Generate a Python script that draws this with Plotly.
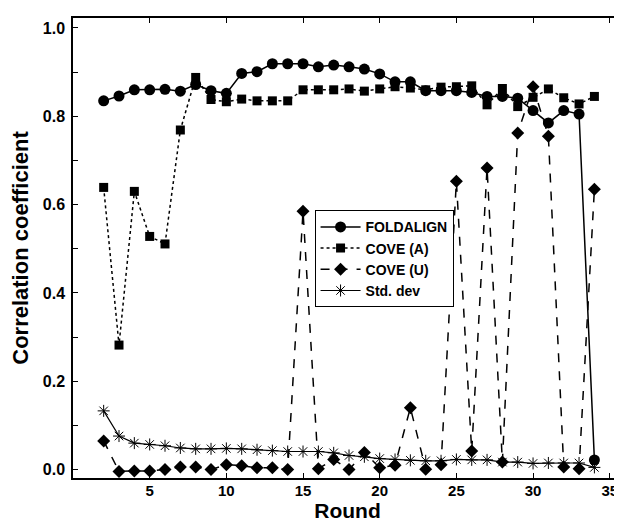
import plotly.graph_objects as go

rounds = list(range(2, 35))

foldalign = [0.835, 0.846, 0.860, 0.860, 0.861, 0.857, 0.872, 0.858, 0.852, 0.897,
             0.901, 0.919, 0.919, 0.919, 0.912, 0.916, 0.912, 0.907, 0.896, 0.878,
             0.878, 0.858, 0.858, 0.858, 0.854, 0.845, 0.845, 0.841, 0.813, 0.785,
             0.813, 0.805, 0.022]

cove_a = [0.639, 0.282, 0.630, 0.528, 0.511, 0.769, 0.888, 0.838, 0.833, 0.839,
          0.835, 0.835, 0.835, 0.860, 0.860, 0.860, 0.862, 0.857, 0.862, 0.867,
          0.864, 0.860, 0.866, 0.867, 0.869, 0.826, 0.863, 0.822, 0.843, 0.862,
          0.842, 0.828, 0.845]

cove_u = [0.065, -0.004, -0.003, -0.003, 0.000, 0.006, 0.006, 0.000, 0.011, 0.009,
          0.004, 0.004, 0.000, 0.585, 0.002, 0.023, 0.000, 0.039, 0.004, 0.010,
          0.140, 0.001, 0.011, 0.653, 0.042, 0.683, 0.017, 0.762, 0.867, 0.755,
          0.006, 0.002, 0.635]

std_dev = [0.133, 0.076, 0.060, 0.057, 0.054, 0.049, 0.047, 0.047, 0.048, 0.047,
           0.045, 0.043, 0.041, 0.041, 0.041, 0.038, 0.032, 0.029, 0.025, 0.023,
           0.021, 0.020, 0.020, 0.023, 0.022, 0.022, 0.017, 0.017, 0.014, 0.015,
           0.015, 0.015, 0.005]

x_ticks = [5, 10, 15, 20, 25, 30, 35]
y_ticks = [0.0, 0.2, 0.4, 0.6, 0.8, 1.0]

fig = go.Figure()
fig.add_trace(go.Scatter(x=rounds, y=foldalign, name="FOLDALIGN", mode="lines+markers",
                         line=dict(color="black", width=1.5),
                         marker=dict(symbol="circle", size=11, color="black")))
fig.add_trace(go.Scatter(x=rounds, y=cove_a, name="COVE (A)", mode="lines+markers",
                         line=dict(color="black", width=1.5, dash="dot"),
                         marker=dict(symbol="square", size=9, color="black")))
fig.add_trace(go.Scatter(x=rounds, y=cove_u, name="COVE (U)", mode="lines+markers",
                         line=dict(color="black", width=1.5, dash="dash"),
                         marker=dict(symbol="diamond", size=10, color="black")))
fig.add_trace(go.Scatter(x=rounds, y=std_dev, name="Std. dev", mode="lines+markers",
                         line=dict(color="black", width=1.2),
                         marker=dict(symbol="asterisk-open", size=10, color="black",
                                     line=dict(color="black", width=1))))

font_family = "Liberation Sans, Arial, Helvetica, sans-serif"

# the page body adds an 8px margin, so the figure is offset by 8px; the extra
# height below the window is empty paper
fig.update_layout(
    width=614, height=521,
    margin=dict(l=65, r=0, t=10, b=51),
    paper_bgcolor="white", plot_bgcolor="white",
    font=dict(family=font_family, color="black"),
    showlegend=True,
    legend=dict(x=0.44, y=0.582, xanchor="left", yanchor="top",
                bordercolor="black", borderwidth=1, bgcolor="white",
                font=dict(size=14, family=font_family, color="black", weight="bold"),
                itemwidth=40, tracegroupgap=0),
)
fig.update_xaxes(
    range=[0, 35.8], tickvals=x_ticks, ticktext=[f"<b>{v}</b>" for v in x_ticks],
    ticks="inside", ticklen=5, tickcolor="black",
    showline=True, linecolor="black", linewidth=1.5, mirror="ticks",
    showgrid=False, zeroline=False, ticklabelstandoff=-2,
    tickfont=dict(size=15, family=font_family),
    title=dict(text="<b>Round</b>", font=dict(size=21, family=font_family), standoff=3),
    automargin=False,
)
fig.update_yaxes(
    range=[-0.019, 1.0226], tickvals=y_ticks, ticktext=[f"<b>{v:.1f}</b>" for v in y_ticks],
    ticks="inside", ticklen=5, tickcolor="black",
    minor=dict(ticks="inside", dtick=0.1, ticklen=5, tickcolor="black", showgrid=False),
    showline=True, linecolor="black", linewidth=1.5, mirror="ticks",
    showgrid=False, zeroline=False, ticklabelstandoff=3,
    tickfont=dict(size=16, family=font_family),
    title=dict(text="<b>Correlation coefficient</b>", font=dict(size=22, family=font_family), standoff=9),
    automargin=False,
)

fig.write_html("out.html")
